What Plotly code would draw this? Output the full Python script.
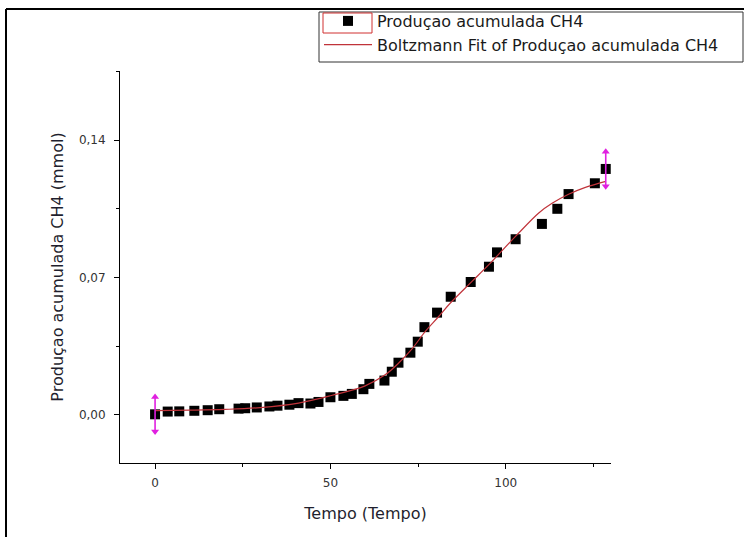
import plotly.graph_objects as go

# ---- data ----
tempo = [0, 3.6, 6.9, 11.2, 15.0, 18.3, 23.8, 25.7, 29.0, 32.6, 34.9, 38.3, 40.9,
         44.3, 46.6, 50.0, 53.7, 56.1, 59.4, 61.1, 65.4, 67.5, 69.4, 72.8, 74.9,
         76.8, 80.4, 84.3, 90.0, 95.2, 97.5, 102.8, 110.3, 114.7, 117.9, 125.4, 128.5]
producao = [0.0003, 0.0017, 0.0018, 0.0021, 0.0024, 0.0029, 0.0032, 0.0034, 0.0038,
            0.0043, 0.0047, 0.0052, 0.0060, 0.0058, 0.0066, 0.0090, 0.0097, 0.0107,
            0.0131, 0.0158, 0.0175, 0.0220, 0.0266, 0.0317, 0.0373, 0.0447, 0.0521,
            0.0602, 0.0677, 0.0755, 0.0828, 0.0895, 0.0973, 0.1050, 0.1125, 0.1180,
            0.1253]

fit_tempo = [0, 10, 20, 30, 40.9, 50.3, 59.9, 65.6, 69.4, 73.2, 77.0, 80.8, 84.2,
             90.3, 95.1, 102.7, 109.4, 113.2, 117.9, 122.7, 128.5]
fit_producao = [0.0022, 0.0024, 0.0028, 0.0037, 0.0060, 0.0099, 0.0148, 0.0204,
                0.0263, 0.0335, 0.0424, 0.0500, 0.0570, 0.0679, 0.0764, 0.0908,
                0.1029, 0.1078, 0.1124, 0.1159, 0.1190]

x_ticks = [0, 50, 100]
y_ticks = [0.00, 0.07, 0.14]
y_tick_text = ["0,00", "0,07", "0,14"]

name_pts = "Produçao acumulada CH4"
name_fit = "Boltzmann Fit of Produçao acumulada CH4"
x_title = "Tempo (Tempo)"
y_title = "Produçao acumulada CH4 (mmol)"

FONT = "DejaVu Sans"
RED = "#c0333a"
MAG = "#e020e0"
sel_half = 0.0088  # half-height of the selection arrows (data units)

fig = go.Figure()

fig.add_trace(go.Scatter(
    x=tempo, y=producao, mode="markers", name=name_pts,
    marker=dict(symbol="square", size=10, color="black", line=dict(width=0)),
))
fig.add_trace(go.Scatter(
    x=fit_tempo, y=fit_producao, mode="lines", name=name_fit,
    line=dict(color=RED, width=1.2, shape="spline", smoothing=1.0),
))

# magenta data-range selection arrows at the first and last point
for i in (0, len(tempo) - 1):
    fig.add_trace(go.Scatter(
        x=[tempo[i], tempo[i]],
        y=[producao[i] - sel_half, producao[i] + sel_half],
        mode="lines+markers", showlegend=False, hoverinfo="skip",
        line=dict(color=MAG, width=1.6),
        marker=dict(symbol=["triangle-down", "triangle-up"], size=7, color=MAG),
    ))

W, H = 744, 537
L, R, T, B = 120, 133, 71, 74
pw, ph = W - L - R, H - T - B


def px_x(p):
    return (p - L) / pw


def px_y(p):
    return (H - B - p) / ph


fig.update_layout(
    width=W, height=H,
    margin=dict(l=L, r=R, t=T, b=B, autoexpand=False),
    paper_bgcolor="white", plot_bgcolor="white",
    separators=",.",
    font=dict(family=FONT, size=12, color="#333333"),
    showlegend=True,
    legend=dict(
        x=px_x(319), y=px_y(4), xanchor="left", yanchor="top",
        bgcolor="rgba(0,0,0,0)", borderwidth=0,
        font=dict(family=FONT, size=16, color="#1a1a1a"),
        itemwidth=48, tracegroupgap=0,
    ),
    xaxis=dict(
        range=[-10, 130], showgrid=False, zeroline=False,
        showline=True, linecolor="black", linewidth=1,
        ticks="outside", ticklen=5, tickwidth=1, tickcolor="black",
        tickvals=x_ticks, ticklabelstandoff=4,
        minor=dict(ticks="outside", ticklen=3, tickwidth=1, tickcolor="black",
                   dtick=25, tick0=0, showgrid=False),
        tickfont=dict(family=FONT, size=12, color="#333333"),
        title=dict(text=x_title, font=dict(family=FONT, size=16, color="#1f1f2e"),
                   standoff=18),
    ),
    yaxis=dict(
        range=[-0.0245, 0.1752], showgrid=False, zeroline=False,
        showline=True, linecolor="black", linewidth=1,
        ticks="outside", ticklen=5, tickwidth=1, tickcolor="black",
        tickvals=y_ticks, ticktext=y_tick_text, ticklabelstandoff=6,
        minor=dict(ticks="outside", ticklen=3, tickwidth=1, tickcolor="black",
                   dtick=0.035, tick0=0, showgrid=False),
        tickfont=dict(family=FONT, size=12, color="#333333"),
        title=dict(text=y_title, font=dict(family=FONT, size=16, color="#1f1f2e"),
                   standoff=11),
    ),
    shapes=[
        # page frame (left and top edges)
        dict(type="line", xref="paper", yref="paper",
             x0=px_x(6), x1=px_x(6), y0=px_y(9), y1=px_y(540),
             line=dict(color="black", width=2)),
        dict(type="line", xref="paper", yref="paper",
             x0=px_x(6), x1=px_x(750), y0=px_y(9), y1=px_y(9),
             line=dict(color="black", width=2)),
        # legend frame
        dict(type="rect", xref="paper", yref="paper",
             x0=px_x(319), x1=px_x(743), y0=px_y(12), y1=px_y(62),
             line=dict(color="#333333", width=1), fillcolor="rgba(0,0,0,0)"),
        # red selection box around the legend marker
        dict(type="rect", xref="paper", yref="paper",
             x0=px_x(323), x1=px_x(372), y0=px_y(13), y1=px_y(33),
             line=dict(color="#d03030", width=1), fillcolor="rgba(0,0,0,0)"),
    ],
)

fig.write_html(
    "out.html",
    config={"displayModeBar": False},
    post_script="document.body.style.margin='0px';document.body.style.overflow='hidden';",
)
